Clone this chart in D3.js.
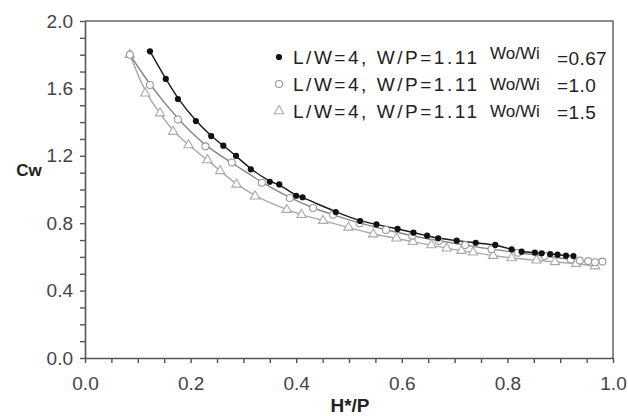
<!DOCTYPE html>
<html lang="en">
<head>
    <meta charset="UTF-8">
    <title>Cw vs H*/P</title>
    <script src="https://d3js.org/d3.v7.min.js"></script>
    <style>
        body { margin: 0; background: #fff; }
        svg { display: block; font-family: "Liberation Sans", Arial, sans-serif; }
    </style>
</head>
<body>
    <div id="chart"></div>

    <script>
        // Wo/Wi = 0.67 (filled dots)
        const s1x = [0.123, 0.153, 0.176, 0.210, 0.239, 0.262, 0.286, 0.314, 0.350, 0.368, 0.400, 0.412, 0.475, 0.521, 0.552, 0.592, 0.622, 0.648, 0.669, 0.704, 0.740, 0.777, 0.808, 0.827, 0.852, 0.865, 0.881, 0.895, 0.911, 0.925];
        const s1y = [1.82, 1.656, 1.537, 1.406, 1.317, 1.26, 1.20, 1.12, 1.046, 1.03, 0.963, 0.954, 0.866, 0.813, 0.793, 0.766, 0.744, 0.726, 0.71, 0.696, 0.684, 0.671, 0.645, 0.631, 0.625, 0.621, 0.617, 0.613, 0.607, 0.605];

        // Wo/Wi = 1.0 (open circles)
        const s2x = [0.085, 0.123, 0.176, 0.228, 0.278, 0.335, 0.388, 0.432, 0.470, 0.520, 0.570, 0.620, 0.670, 0.720, 0.770, 0.820, 0.870, 0.920, 0.937, 0.953, 0.966, 0.980];
        const s2y = [1.80, 1.62, 1.415, 1.256, 1.16, 1.04, 0.95, 0.89, 0.85, 0.80, 0.76, 0.725, 0.695, 0.67, 0.645, 0.625, 0.605, 0.585, 0.578, 0.575, 0.568, 0.572];

        // Wo/Wi = 1.5 (triangles)
        const s3x = [0.085, 0.114, 0.142, 0.167, 0.196, 0.232, 0.256, 0.287, 0.322, 0.382, 0.410, 0.451, 0.499, 0.546, 0.590, 0.621, 0.656, 0.685, 0.713, 0.735, 0.773, 0.808, 0.855, 0.890, 0.930, 0.966];
        const s3y = [1.80, 1.571, 1.453, 1.343, 1.264, 1.175, 1.11, 1.03, 0.96, 0.88, 0.85, 0.815, 0.775, 0.735, 0.71, 0.69, 0.67, 0.651, 0.637, 0.627, 0.607, 0.593, 0.58, 0.57, 0.56, 0.545];

        const xLabels = [0, 0.2, 0.4, 0.6, 0.8, 1.0];
        const yLabels = [0, 0.4, 0.8, 1.2, 1.6, 2.0];
        const legendNames = ["L/W=4, W/P=1.11", "L/W=4, W/P=1.11", "L/W=4, W/P=1.11"];
        const legendRatios = ["=0.67", "=1.0", "=1.5"];

        const W = 628, H = 416;
        const svg = d3.select("#chart").append("svg")
            .attr("width", W)
            .attr("height", H);

        const x = d3.scaleLinear().domain([0, 1]).range([85, 613]);
        const y = d3.scaleLinear().domain([0, 2]).range([358, 21]);

        const fmt = d3.format(".1f");
        const isMajor = (v, list) => list.some(m => Math.abs(m - v) < 1e-6);

        // frame top and right
        svg.append("path")
            .attr("d", `M${x(0)},${y(2)}H${x(1)}V${y(0)}`)
            .attr("fill", "none")
            .attr("stroke", "#666")
            .attr("stroke-width", 1.5);

        const xAxis = svg.append("g")
            .attr("transform", `translate(0,${y(0)})`)
            .call(d3.axisBottom(x)
                .tickValues(d3.range(0, 21).map(i => i * 0.05))
                .tickSize(5)
                .tickSizeOuter(0)
                .tickFormat(d => isMajor(d, xLabels) ? fmt(d) : ""));

        const yAxis = svg.append("g")
            .attr("transform", `translate(${x(0)},0)`)
            .call(d3.axisLeft(y)
                .tickValues(d3.range(0, 21).map(i => i * 0.1))
                .tickSize(5)
                .tickSizeOuter(0)
                .tickFormat(d => isMajor(d, yLabels) ? fmt(d) : ""));

        [xAxis, yAxis].forEach(g => {
            g.select(".domain").attr("stroke", "#555").attr("stroke-width", 1.6);
            g.selectAll(".tick line").attr("stroke", "#555").attr("stroke-width", 1.4);
            g.selectAll(".tick text")
                .attr("fill", "#444")
                .style("font-size", "19px");
        });
        xAxis.selectAll(".tick text").attr("y", 32).attr("dy", 0);
        yAxis.selectAll(".tick text").attr("x", -12);

        // axis titles
        svg.append("text")
            .attr("x", 29).attr("y", 176)
            .attr("text-anchor", "middle")
            .attr("font-weight", "bold")
            .attr("font-size", 17)
            .attr("fill", "#222")
            .text("Cw");

        svg.append("text")
            .attr("x", 350).attr("y", 412)
            .attr("text-anchor", "middle")
            .attr("font-weight", "bold")
            .attr("font-size", 19)
            .attr("fill", "#222")
            .text("H*/P");

        const series = [
            { xs: s1x, ys: s1y, line: "#1a1a1a", mark: "dot" },
            { xs: s2x, ys: s2y, line: "#888", mark: "circle" },
            { xs: s3x, ys: s3y, line: "#aaa", mark: "triangle" }
        ];

        const line = d3.line()
            .x(d => x(d[0]))
            .y(d => y(d[1]))
            .curve(d3.curveBasis);

        const tri = d3.symbol().type(d3.symbolTriangle).size(38);

        function drawMarker(g, kind, cx, cy) {
            if (kind === "dot") {
                g.append("circle").attr("cx", cx).attr("cy", cy).attr("r", 3.1)
                    .attr("fill", "#111");
            } else if (kind === "circle") {
                g.append("circle").attr("cx", cx).attr("cy", cy).attr("r", 3.5)
                    .attr("fill", "#fff").attr("stroke", "#999").attr("stroke-width", 1.1);
            } else {
                g.append("path").attr("d", tri)
                    .attr("transform", `translate(${cx},${cy})`)
                    .attr("fill", "#fff").attr("stroke", "#aaa").attr("stroke-width", 1.1);
            }
        }

        // lines first (lightest on bottom)
        series.slice().reverse().forEach(s => {
            const pts = s.xs.map((v, i) => [v, s.ys[i]]);
            svg.append("path")
                .datum(pts)
                .attr("fill", "none")
                .attr("stroke", s.line)
                .attr("stroke-width", 1.4)
                .attr("d", line);
        });

        series.slice().reverse().forEach(s => {
            const g = svg.append("g");
            s.xs.forEach((v, i) => drawMarker(g, s.mark, x(v), y(s.ys[i])));
        });

        // legend
        const legendY = [57, 84, 111];
        const leg = svg.append("g").attr("fill", "#222");
        series.forEach((s, i) => {
            drawMarker(leg, s.mark, 279, legendY[i]);
            leg.append("text")
                .attr("x", 293).attr("y", legendY[i] + 7)
                .attr("font-size", 19)
                .attr("textLength", 184)
                .attr("lengthAdjust", "spacing")
                .text(legendNames[i]);
            leg.append("text")
                .attr("x", 490).attr("y", legendY[i] + (i === 0 ? 2 : 6))
                .attr("font-size", 17)
                .text("Wo/Wi");
            leg.append("text")
                .attr("x", 557).attr("y", legendY[i] + 8)
                .attr("font-size", 19)
                .attr("letter-spacing", 0.4)
                .text(legendRatios[i]);
        });
    </script>
</body>
</html>
